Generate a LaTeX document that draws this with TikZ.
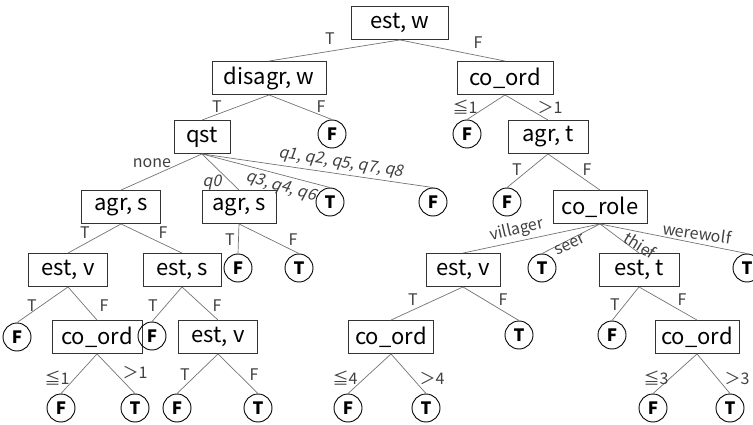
\documentclass[tikz,border=0pt]{standalone}
\usepackage{fontspec}
\setmainfont{Noto Sans CJK JP}
\newfontfamily\slantfont[FakeSlant=0.2]{Noto Sans CJK JP}

\tikzset{
  box/.style={draw=black!80, line width=0.9pt, minimum height=33pt, inner sep=0pt,
              font=\fontsize{22}{22}\selectfont},
  leaf/.style={circle, draw=black, line width=0.9pt, minimum size=28pt, inner sep=0pt,
               font=\fontsize{17}{17}\selectfont\bfseries},
  edge/.style={draw=black!55, line width=0.7pt},
  lab/.style={inner sep=0pt, text=black!75, font=\fontsize{16}{16}\selectfont},
  qlab/.style={inner sep=0pt, text=black!75, font=\fontsize{16}{16}\slantfont},
}

\begin{document}
\begin{tikzpicture}[x=1pt, y=-1pt]
\useasboundingbox (0,0) rectangle (753,425);

% decision nodes
\node[box, minimum width=97pt]  (root)   at (400,23)  {est, w};
\node[box, minimum width=114pt] (disagr) at (269,78)  {disagr, w};
\node[box, minimum width=96pt]  (coA)    at (505,78)  {co\_ord};
\node[box, minimum width=56pt]  (qst)    at (202,137) {qst};
\node[box, minimum width=80pt]  (agrt)   at (548,137) {agr, t};
\node[box, minimum width=94pt]  (corole) at (600,207) {co\_role};
\node[box, minimum width=79pt]  (agrsA)  at (121,207) {agr, s};
\node[box, minimum width=74pt]  (agrsB)  at (239,207) {agr, s};
\node[box, minimum width=79pt]  (estvA)  at (68,270)  {est, v};
\node[box, minimum width=78pt]  (ests)   at (182,270) {est, s};
\node[box, minimum width=74pt]  (estvB)  at (463,270) {est, v};
\node[box, minimum width=80pt]  (estt)   at (639,270) {est, t};
\node[box, minimum width=90pt]  (coB)    at (97,337)  {co\_ord};
\node[box, minimum width=79pt]  (estvC)  at (218,337) {est, v};
\node[box, minimum width=85pt]  (coC)    at (391,337) {co\_ord};
\node[box, minimum width=84pt]  (coD)    at (697,337) {co\_ord};

% leaves
\node[leaf] (fA) at (332,134) {F};
\node[leaf] (fB) at (467,134) {F};
\node[leaf] (fC) at (507,202) {F};
\node[leaf] (fD) at (433,202) {F};
\node[leaf] (tA) at (330,202) {T};
\node[leaf] (fE) at (238,268) {F};
\node[leaf] (tB) at (299,268) {T};
\node[leaf] (tC) at (542,268) {T};
\node[leaf] (tD) at (747,268) {T};
\node[leaf] (fF) at (17,337)  {F};
\node[leaf] (fG) at (152,336) {F};
\node[leaf] (tE) at (519,335) {T};
\node[leaf] (fH) at (612,335) {F};
\node[leaf] (fI) at (61,408)  {F};
\node[leaf] (tF) at (135,408) {T};
\node[leaf] (fJ) at (177,408) {F};
\node[leaf] (tG) at (258,408) {T};
\node[leaf] (fK) at (348,408) {F};
\node[leaf] (tH) at (426,408) {T};
\node[leaf] (fL) at (653,408) {F};
\node[leaf] (tI) at (730,408) {T};

% branches
\foreach \p/\c in {root/disagr, root/coA, disagr/qst, disagr/fA, coA/fB, coA/agrt,
    qst/agrsA, qst/agrsB, qst/tA, qst/fD, agrt/fC, agrt/corole,
    corole/estvB, corole/tC, corole/estt, corole/tD,
    agrsA/estvA, agrsA/ests, agrsB/fE, agrsB/tB,
    estvA/fF, estvA/coB, ests/fG, ests/estvC,
    coB/fI, coB/tF, estvC/fJ, estvC/tG,
    estvB/coC, estvB/tE, estt/fH, estt/coD,
    coC/fK, coC/tH, coD/fL, coD/tI}
  \draw[edge] (\p.south) -- (\c.north);

% branch labels
\node[lab] (l01) at (330,39)  {T};
\node[lab] (l02) at (478,43)  {F};
\node[lab] (l03) at (217,107) {T};
\node[lab] (l04) at (321,107) {F};
\node[lab] (l05) at (465,107) {≦1};
\node[lab] (l06) at (550,107) {＞1};
\node[lab] (l07) at (152,163) {none};
\node[qlab] (l08) at (212,183) {q0};
\node[qlab, rotate=-16] (l09) at (281,187) {q3, q4, q6};
\node[qlab, rotate=-8.6] (l10) at (341,163) {q1, q2, q5, q7, q8};
\node[lab] (l11) at (517,170) {T};
\node[lab] (l12) at (587,170) {F};
\node[lab, rotate=13]  (l13) at (517,230) {villager};
\node[lab, rotate=26]  (l14) at (570,245) {seer};
\node[lab, rotate=-32] (l15) at (640,245) {thief};
\node[lab, rotate=-8]  (l16) at (697,233) {werewolf};
\node[lab] (l17) at (85,233)  {T};
\node[lab] (l18) at (163,233) {F};
\node[lab] (l19) at (230,240) {T};
\node[lab] (l20) at (293,240) {F};
\node[lab] (l21) at (32,306)  {T};
\node[lab] (l22) at (104,306) {F};
\node[lab] (l23) at (153,306) {T};
\node[lab] (l24) at (217,306) {F};
\node[lab] (l25) at (413,300) {T};
\node[lab] (l26) at (503,300) {F};
\node[lab] (l27) at (615,305) {T};
\node[lab] (l28) at (682,300) {F};
\node[lab] (l29) at (57,378)  {≦1};
\node[lab] (l30) at (135,372) {＞1};
\node[lab] (l31) at (185,375) {T};
\node[lab] (l32) at (254,375) {F};
\node[lab] (l33) at (345,378) {≦4};
\node[lab] (l34) at (432,378) {＞4};
\node[lab] (l35) at (656,378) {≦3};
\node[lab] (l36) at (737,378) {＞3};
\end{tikzpicture}
\end{document}
